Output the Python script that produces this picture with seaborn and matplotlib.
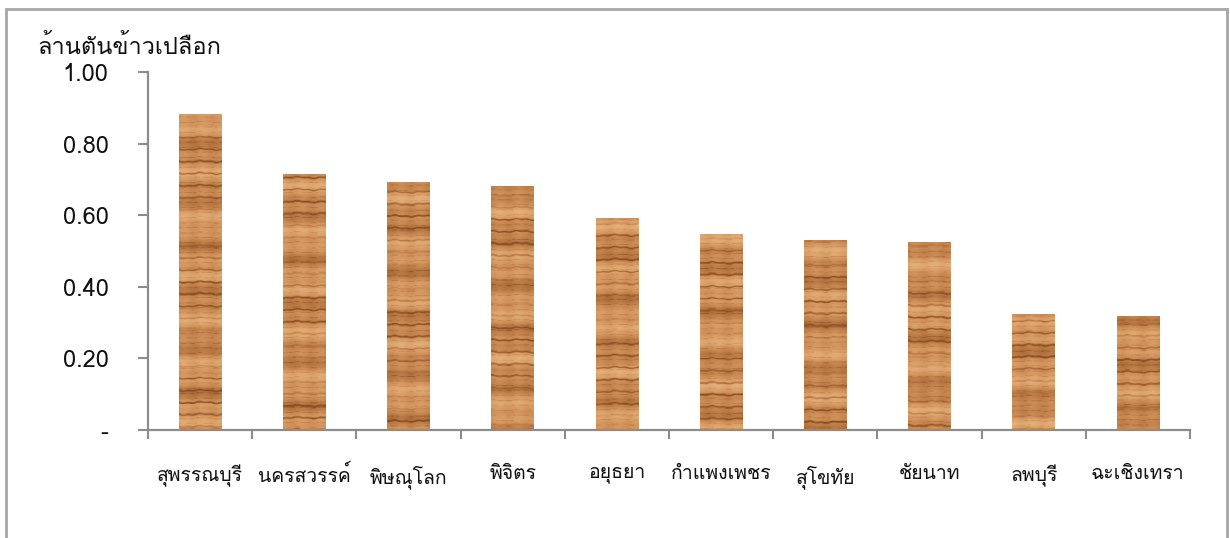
import numpy as np
import pandas as pd
import seaborn as sns
from matplotlib import pyplot as plt
from matplotlib import font_manager
from matplotlib.ft2font import FT2Font
from matplotlib.colors import LinearSegmentedColormap
from matplotlib.patches import Rectangle

# Data (million tonnes of paddy)
provinces = ["สุพรรณบุรี", "นครสวรรค์", "พิษณุโลก", "พิจิตร", "อยุธยา",
             "กำแพงเพชร", "สุโขทัย", "ชัยนาท", "ลพบุรี", "ฉะเชิงเทรา"]
production = [0.883, 0.715, 0.693, 0.682, 0.592, 0.547, 0.531, 0.525, 0.324, 0.318]
y_ticks = [0.0, 0.2, 0.4, 0.6, 0.8, 1.0]
y_labels = ["-", "0.20", "0.40", "0.60", "0.80", "1.00"]
y_title = "ล้านตันข้าวเปลือก"


# find an installed font that has Thai glyphs
def find_thai_font():
    for f in font_manager.fontManager.ttflist:
        try:
            cmap = FT2Font(f.fname).get_charmap()
        except Exception:
            continue
        if ord("ก") in cmap and ord("ุ") in cmap:
            return f.name
    return "DejaVu Sans"


sns.set_style("white")
thai_font = find_thai_font()
plt.rcParams["font.family"] = [thai_font, "DejaVu Sans"]

df = pd.DataFrame({"province": provinces, "production": production})

fig = plt.figure(figsize=(12.3, 5.38), dpi=100)
ax = fig.add_axes([148 / 1230, 108 / 538, 1042 / 1230, 358 / 538])

sns.barplot(data=df, x="province", y="production", color="#C98A55",
            width=0.41, saturation=1, ax=ax)

# wood-grain look inside each bar
wood = LinearSegmentedColormap.from_list("wood", ["#8A4F22", "#B57440", "#D3955D", "#E6B27E"])
for i, p in enumerate(ax.patches):
    x0, w, h = p.get_x(), p.get_width(), p.get_height()
    ys = np.linspace(0, h, max(int(h * 400), 2))[:, None]
    xs = np.linspace(0, 1, 44)[None, :]
    ph = 1.7 * i
    base = (0.62 + 0.18 * np.sin(2 * np.pi * 7.3 * ys + ph)
            + 0.12 * np.sin(2 * np.pi * 17.1 * ys + 2.3 * ph)
            + 0.05 * np.sin(2 * np.pi * 2.2 * xs + ph))
    wob = 0.05 * np.sin(2 * np.pi * 1.4 * xs + ph) + 0.03 * np.sin(2 * np.pi * 3.7 * xs + 2 * ph)
    lines = np.clip(np.sin(2 * np.pi * (29.7 * ys + wob) + ph), 0, 1) ** 10
    lines = lines * (0.55 + 0.45 * np.sin(2 * np.pi * 3.1 * ys + 0.7 * ph))
    fine = np.clip(np.sin(2 * np.pi * (71.3 * ys + 1.5 * wob) + 3 * ph), 0, 1) ** 14
    g = np.clip(base - 0.7 * lines - 0.25 * fine, 0, 1)
    im = ax.imshow(g, cmap=wood, vmin=0, vmax=1, extent=(x0, x0 + w, 0, h), origin="lower",
                   aspect="auto", interpolation="bilinear", zorder=p.get_zorder() + 0.1)
    im.set_clip_path(p)

ax.set_xlim(-0.5, len(provinces) - 0.5)
ax.set_ylim(0, 1.0)
ax.set_yticks(y_ticks)
ax.set_yticklabels(y_labels, fontsize=17, color="#111111")
ax.set_xlabel("")
ax.set_ylabel("")

axis_col = "#8C8C8C"
for side in ["top", "right"]:
    ax.spines[side].set_visible(False)
for side in ["left", "bottom"]:
    ax.spines[side].set_color(axis_col)
    ax.spines[side].set_linewidth(1.6)

ax.tick_params(axis="y", which="major", direction="out", length=7.5, width=1.5,
               color=axis_col, pad=21, left=True)
# category separators on the x axis
ax.set_xticks(np.arange(-0.5, len(provinces)), minor=True)
ax.tick_params(axis="x", which="minor", direction="out", length=6.5, width=1.5,
               color=axis_col, bottom=True)
ax.tick_params(axis="x", which="major", length=0, pad=25, labelsize=14,
               labelcolor="#111111")

fig.text(37 / 1230, 1 - 47 / 538, y_title, fontsize=17, va="center", ha="left",
         color="#111111")

# outer chart border
fig.patches.append(Rectangle((6 / 1230, -0.05), 1221 / 1230, 1.05 - 9 / 538,
                             transform=fig.transFigure, fill=False,
                             edgecolor="#A6A6A6", linewidth=2))

fig.savefig("out.png", dpi=100)
